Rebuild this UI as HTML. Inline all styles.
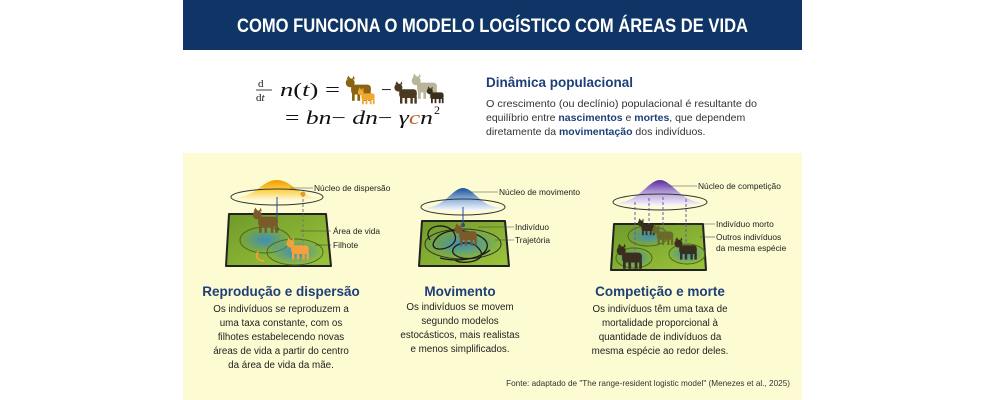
<!DOCTYPE html>
<html><head><meta charset="utf-8"><style>
html,body{margin:0;padding:0;background:#fff;}
svg{display:block;font-family:"Liberation Sans",sans-serif;}
</style></head><body>
<svg width="985" height="400" viewBox="0 0 985 400" xmlns="http://www.w3.org/2000/svg">
<defs>
<linearGradient id="g1" x1="0" y1="0" x2="0" y2="1"><stop offset="0" stop-color="#f39a00"/><stop offset="0.5" stop-color="#fbd24a"/><stop offset="1" stop-color="#fffbe8"/></linearGradient>
<linearGradient id="g2" x1="0" y1="0" x2="0" y2="1"><stop offset="0" stop-color="#1c4f99"/><stop offset="0.5" stop-color="#8fb3dc"/><stop offset="1" stop-color="#fbfcff"/></linearGradient>
<linearGradient id="g3" x1="0" y1="0" x2="0" y2="1"><stop offset="0" stop-color="#5b2a9c"/><stop offset="0.5" stop-color="#b9a4dc"/><stop offset="1" stop-color="#fcfbff"/></linearGradient>
<linearGradient id="gr" x1="0" y1="0" x2="1" y2="1"><stop offset="0" stop-color="#6f9a2a"/><stop offset="1" stop-color="#9cc43a"/></linearGradient>
<radialGradient id="blue"><stop offset="0" stop-color="#3e8fb8"/><stop offset="1" stop-color="#3e8fb8" stop-opacity="0"/></radialGradient>
<g id="cat"><rect x="-11" y="-6" width="22" height="11" rx="4"/><rect x="-10" y="3" width="3" height="9"/><rect x="-4" y="3" width="3" height="9"/><rect x="3" y="3" width="3" height="9"/><rect x="8" y="3" width="3" height="9"/><circle cx="-12" cy="-8" r="5"/><path d="M-16,-12 l2,-4 l2,3z M-10,-12 l2,-4 l1,4z"/></g>
</defs>
<rect x="183" y="0" width="619" height="50" fill="#0f3566"/>
<text x="237" y="32" textLength="511" lengthAdjust="spacingAndGlyphs" fill="#fff" font-weight="bold" font-size="19">COMO FUNCIONA O MODELO LOGÍSTICO COM ÁREAS DE VIDA</text>

<g font-family="Liberation Serif,serif" fill="#111">
<text x="258" y="87" font-size="11">d</text><line x1="256" y1="90" x2="272" y2="90" stroke="#111" stroke-width="0.8"/><text x="256" y="101" font-size="11">d<tspan font-style="italic">t</tspan></text>
<text x="280" y="96" font-size="19" textLength="60" lengthAdjust="spacingAndGlyphs"><tspan font-style="italic">n</tspan>(<tspan font-style="italic">t</tspan>) =</text>
<text x="381" y="96" font-size="19">−</text>
<text x="285" y="124" font-size="19" textLength="148" lengthAdjust="spacingAndGlyphs">= <tspan font-style="italic">bn</tspan>−  <tspan font-style="italic">dn</tspan>−  <tspan font-style="italic">γ</tspan><tspan font-style="italic" fill="#c0602a">c</tspan><tspan font-style="italic">n</tspan></text>
<text x="434" y="114" font-size="12">2</text>
</g>
<g fill="#8a6412"><use href="#cat" transform="translate(361,90) scale(0.9)"/></g>
<g fill="#f0a830"><use href="#cat" transform="translate(368,97) scale(0.6)"/></g>
<g fill="#4a3a22"><use href="#cat" transform="translate(408,94) scale(0.8)"/></g>
<g fill="#b8b59a"><use href="#cat" transform="translate(427,88) scale(0.9)"/></g>
<g fill="#3a2e1e"><use href="#cat" transform="translate(437,96) scale(0.6)"/></g>

<text x="486" y="87" fill="#1e3f78" font-weight="bold" font-size="13.5">Dinâmica populacional</text>
<g font-size="10.5" fill="#333">
<text x="486" y="107" textLength="271" lengthAdjust="spacingAndGlyphs">O crescimento (ou declínio) populacional é resultante do</text>
<text x="486" y="121">equilíbrio entre <tspan fill="#1e3f78" font-weight="bold">nascimentos</tspan> e <tspan fill="#1e3f78" font-weight="bold">mortes</tspan>, que dependem</text>
<text x="486" y="135">diretamente da <tspan fill="#1e3f78" font-weight="bold">movimentação</tspan> dos indivíduos.</text>
</g>

<rect x="183" y="153" width="619" height="247" fill="#fdfbd2"/>

<!-- Panel 1 -->
<path d="M229,214 L326,214 L331,266 L226,266 Z" fill="url(#gr)" stroke="#222" stroke-width="2" stroke-linejoin="round"/>
<ellipse cx="265" cy="240" rx="25" ry="13" fill="url(#blue)" stroke="#4a6a20"/>
<ellipse cx="295" cy="252" rx="28" ry="13" fill="url(#blue)" stroke="#4a6a20"/>
<path d="M234,198 C256,197 262,180 277,180 C292,180 298,197 320,198 Q277,204 234,198 Z" fill="url(#g1)"/>
<ellipse cx="277" cy="197" rx="46" ry="8" fill="none" stroke="#333"/>
<line x1="277" y1="197" x2="277" y2="229" stroke="#2a4a99"/><circle cx="277" cy="229" r="2" fill="#2a4a99"/>
<line x1="303" y1="194" x2="303" y2="248" stroke="#777" stroke-dasharray="3,2"/><circle cx="303" cy="194" r="2.5" fill="#e89a20"/>
<g fill="#7a5a2a"><use href="#cat" transform="translate(268,222) scale(0.9)"/></g>
<g fill="#f2a23a"><use href="#cat" transform="translate(300,250) scale(0.8)"/></g>
<path d="M258,252 q-4,8 6,9" fill="none" stroke="#f2a23a" stroke-width="2"/>
<line x1="313" y1="188" x2="290" y2="188" stroke="#444" stroke-width="0.6"/>
<line x1="331" y1="231" x2="300" y2="231" stroke="#444" stroke-width="0.6"/>
<line x1="331" y1="245" x2="315" y2="245" stroke="#444" stroke-width="0.6"/>

<!-- Panel 2 -->
<path d="M422,221 L505,221 L509,266 L419,266 Z" fill="url(#gr)" stroke="#222" stroke-width="2" stroke-linejoin="round"/>
<ellipse cx="463" cy="244" rx="38" ry="15" fill="url(#blue)" stroke="#333"/>
<path d="M430,240 c-10,-15 20,-20 25,-5 c5,15 -30,20 -20,5 c10,-15 40,-10 50,0 c10,12 -15,25 -30,15 c-10,-8 15,-20 25,-5 c8,12 -20,15 -25,10 M440,258 c20,5 40,0 50,-8" fill="none" stroke="#1a1a1a" stroke-width="1.3"/>
<path d="M424,208 C446,207 452,188 463,188 C474,188 480,207 502,208 Q463,214 424,208 Z" fill="url(#g2)"/>
<ellipse cx="463" cy="207" rx="42" ry="8" fill="none" stroke="#333"/>
<line x1="463" y1="207" x2="463" y2="225" stroke="#2a4a99"/><circle cx="463" cy="225" r="2" fill="#2a4a99"/>
<g fill="#7a5a2a"><use href="#cat" transform="translate(468,236) scale(0.8)"/></g>
<line x1="498" y1="192" x2="470" y2="192" stroke="#444" stroke-width="0.6"/>
<line x1="514" y1="227" x2="478" y2="227" stroke="#444" stroke-width="0.6"/>
<line x1="514" y1="240" x2="495" y2="240" stroke="#444" stroke-width="0.6"/>

<!-- Panel 3 -->
<path d="M614,224 L703,224 L706,270 L611,270 Z" fill="url(#gr)" stroke="#222" stroke-width="2" stroke-linejoin="round"/>
<ellipse cx="648" cy="236" rx="20" ry="10" fill="url(#blue)" stroke="#4a6a20"/>
<ellipse cx="634" cy="258" rx="18" ry="10" fill="url(#blue)" stroke="#4a6a20"/>
<ellipse cx="687" cy="254" rx="18" ry="10" fill="url(#blue)" stroke="#4a6a20"/>
<path d="M615,203 C640,202 648,180 660,180 C672,180 680,202 705,203 Q660,210 615,203 Z" fill="url(#g3)"/>
<ellipse cx="660" cy="202" rx="47" ry="8" fill="none" stroke="#333"/>
<g stroke="#6a5aa8" stroke-dasharray="3,2"><line x1="635" y1="202" x2="635" y2="255"/><line x1="649" y1="198" x2="649" y2="225"/><line x1="663" y1="197" x2="663" y2="232"/><line x1="686" y1="199" x2="686" y2="252"/></g>
<g fill="#3a2e1e"><use href="#cat" transform="translate(648,228) scale(0.6)"/><use href="#cat" transform="translate(632,258) scale(0.9)"/><use href="#cat" transform="translate(688,250) scale(0.8)"/></g>
<g fill="#6a6a2a"><use href="#cat" transform="translate(665,236) scale(0.75)"/></g>
<line x1="697" y1="186" x2="668" y2="186" stroke="#444" stroke-width="0.6"/>
<line x1="715" y1="224" x2="676" y2="224" stroke="#444" stroke-width="0.6"/>
<line x1="715" y1="237" x2="700" y2="237" stroke="#444" stroke-width="0.6"/>

<g font-size="8.4" fill="#222">
<text x="314" y="191">Núcleo de dispersão</text>
<text x="333" y="234">Área de vida</text>
<text x="333" y="248">Filhote</text>
<text x="499" y="195">Núcleo de movimento</text>
<text x="515" y="230">Indivíduo</text>
<text x="515" y="243">Trajetória</text>
<text x="698" y="189">Núcleo de competição</text>
<text x="716" y="227">Indivíduo morto</text>
<text x="716" y="240">Outros indivíduos</text>
<text x="716" y="251">da mesma espécie</text>
</g>

<g font-size="13.5" font-weight="bold" fill="#1e3f78" text-anchor="middle">
<text x="281" y="296">Reprodução e dispersão</text>
<text x="460" y="296">Movimento</text>
<text x="660" y="296">Competição e morte</text>
</g>
<g font-size="9.8" fill="#222" text-anchor="middle">
<text x="281" y="312">Os indivíduos se reproduzem a</text>
<text x="281" y="326">uma taxa constante, com os</text>
<text x="281" y="340">filhotes estabelecendo novas</text>
<text x="281" y="354">áreas de vida a partir do centro</text>
<text x="281" y="368">da área de vida da mãe.</text>
<text x="460" y="310">Os indivíduos se movem</text>
<text x="460" y="324">segundo modelos</text>
<text x="460" y="338">estocásticos, mais realistas</text>
<text x="460" y="352">e menos simplificados.</text>
<text x="660" y="312">Os indivíduos têm uma taxa de</text>
<text x="660" y="326">mortalidade proporcional à</text>
<text x="660" y="340">quantidade de indivíduos da</text>
<text x="660" y="354">mesma espécie ao redor deles.</text>
</g>
<text x="790" y="386" font-size="8.2" fill="#333" text-anchor="end">Fonte: adaptado de "The range-resident logistic model" (Menezes et al., 2025)</text>
</svg>
</body></html>
